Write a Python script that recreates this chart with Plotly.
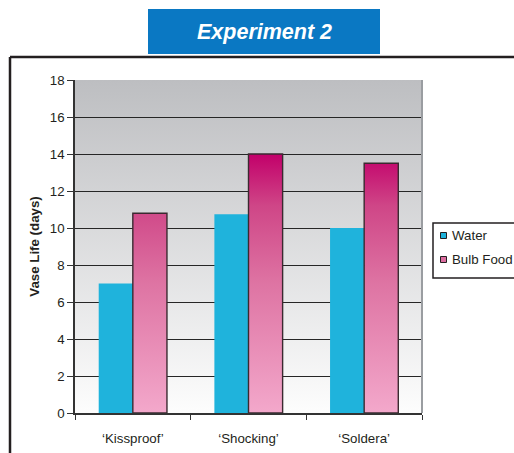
import base64
import plotly.graph_objects as go

# ---- data ----
categories = ["\u2018Kissproof\u2019", "\u2018Shocking\u2019", "\u2018Soldera\u2019"]
water = [7.0, 10.75, 10.0]
bulb_food = [10.8, 14.0, 13.5]
series_names = ["Water", "Bulb Food"]
y_ticks = [0, 2, 4, 6, 8, 10, 12, 14, 16, 18]

W, H = 514, 453
L, R, T, B = 75, 92, 80, 40
PW, PH = W - L - R, H - T - B


def px(x):
    return (x - L) / PW


def py(y):
    return (H - B - y) / PH


FONT = "Liberation Sans, Arial, sans-serif"
FS = 13.3
WATER_COLOR = "#1fb3dc"
BAR_W = 0.295
xs = list(range(len(categories)))

fig = go.Figure()

# water bars (left of category centre)
fig.add_trace(go.Bar(
    x=xs, y=water, name=series_names[0], width=BAR_W, offset=-BAR_W,
    marker=dict(color=WATER_COLOR, line=dict(width=0)),
    showlegend=False, hoverinfo="y",
))

# bulb food bars with vertical gradient (right of category centre)
bx, by = [], []
for x, v in zip(xs, bulb_food):
    bx += [x, x, x + BAR_W, x + BAR_W, x, None]
    by += [0, v, v, 0, 0, None]
fig.add_trace(go.Scatter(
    x=bx, y=by, name=series_names[1], mode="lines", fill="toself",
    line=dict(color="#3a2a30", width=1.4),
    fillgradient=dict(type="vertical", start=0, stop=max(bulb_food),
                      colorscale=[[0, "#f3a8cb"], [0.5, "#de74a3"],
                                  [0.8, "#cf4687"], [1, "#c2006a"]]),
    showlegend=False, hoverinfo="skip",
))

# plot background gradient as image
svg = ("<svg xmlns='http://www.w3.org/2000/svg' width='100' height='100' "
       "preserveAspectRatio='none'><defs><linearGradient id='g' x1='0' y1='0' "
       "x2='0' y2='1'><stop offset='0' stop-color='#bdbec1'/>"
       "<stop offset='1' stop-color='#fdfdfd'/></linearGradient></defs>"
       "<rect width='100' height='100' fill='url(#g)'/></svg>")
src = "data:image/svg+xml;base64," + base64.b64encode(svg.encode()).decode()

shapes = [
    # frame
    dict(type="line", xref="paper", yref="paper", x0=px(10), x1=px(520),
         y0=py(57), y1=py(57), line=dict(color="#231f20", width=2.5)),
    dict(type="line", xref="paper", yref="paper", x0=px(10), x1=px(10),
         y0=py(57), y1=py(460), line=dict(color="#231f20", width=2.5)),
    # title box
    dict(type="rect", xref="paper", yref="paper", x0=px(148), x1=px(380),
         y0=py(54), y1=py(9), fillcolor="#0a78c3", line=dict(width=0)),
    # plot area right border
    dict(type="line", xref="paper", yref="paper", x0=1, x1=1, y0=0, y1=1,
         line=dict(color="#9a9da1", width=2)),
    # legend box
    dict(type="rect", xref="paper", yref="paper", x0=px(433), x1=px(530),
         y0=py(278), y1=py(223), fillcolor="white",
         line=dict(color="#231f20", width=1.5)),
    # legend symbols
    dict(type="rect", xref="paper", yref="paper", x0=px(440.5), x1=px(446.5),
         y0=py(238.5), y1=py(232.5), fillcolor=WATER_COLOR,
         line=dict(color="#231f20", width=1)),
    dict(type="rect", xref="paper", yref="paper", x0=px(440.5), x1=px(446.5),
         y0=py(262.5), y1=py(256.5), fillcolor="#dc6c9f",
         line=dict(color="#231f20", width=1)),
]

annotations = [
    dict(text="<b><i>Experiment 2</i></b>", xref="paper", yref="paper",
         x=px(264), y=py(31.5), xanchor="center", yanchor="middle",
         showarrow=False, font=dict(family=FONT, size=21.5, color="white")),
    dict(text=series_names[0], xref="paper", yref="paper", x=px(450), y=py(235.5),
         xanchor="left", yanchor="middle", showarrow=False,
         font=dict(family=FONT, size=FS, color="#231f20")),
    dict(text=series_names[1], xref="paper", yref="paper", x=px(450), y=py(259.5),
         xanchor="left", yanchor="middle", showarrow=False,
         font=dict(family=FONT, size=FS, color="#231f20")),
]

fig.update_layout(
    width=W, height=H,
    margin=dict(l=L, r=R, t=T, b=B, autoexpand=False),
    paper_bgcolor="white", plot_bgcolor="rgba(0,0,0,0)",
    showlegend=False, barmode="overlay",
    font=dict(family=FONT, size=FS, color="#231f20"),
    images=[dict(source=src, xref="paper", yref="paper", x=0, y=1,
                 sizex=1, sizey=1, sizing="stretch", layer="below",
                 xanchor="left", yanchor="top")],
    shapes=shapes, annotations=annotations,
    xaxis=dict(range=[-0.5, len(categories) - 0.5], tickvals=xs, ticktext=categories,
               ticks="", showgrid=False, zeroline=False, showline=True,
               linecolor="#333333", linewidth=1.5, ticklabelstandoff=12,
               minor=dict(ticks="outside", tick0=0.5, dtick=1, ticklen=5,
                          tickcolor="#333333", tickwidth=1.2, showgrid=False),
               tickfont=dict(size=FS), fixedrange=True),
    yaxis=dict(range=[0, 18], tickvals=y_ticks, ticks="outside", ticklen=6,
               tickcolor="#333333", tickwidth=1.2, showline=True,
               linecolor="#333333", linewidth=1.5, showgrid=True,
               gridcolor="#262626", gridwidth=1.4, zeroline=False,
               tickfont=dict(size=FS),
               title=dict(text="<b>Vase Life (days)</b>", standoff=7,
                          font=dict(size=FS)), fixedrange=True),
)

fig.write_html("out.html", config={"displayModeBar": False},
               post_script="document.body.style.margin='0';")
